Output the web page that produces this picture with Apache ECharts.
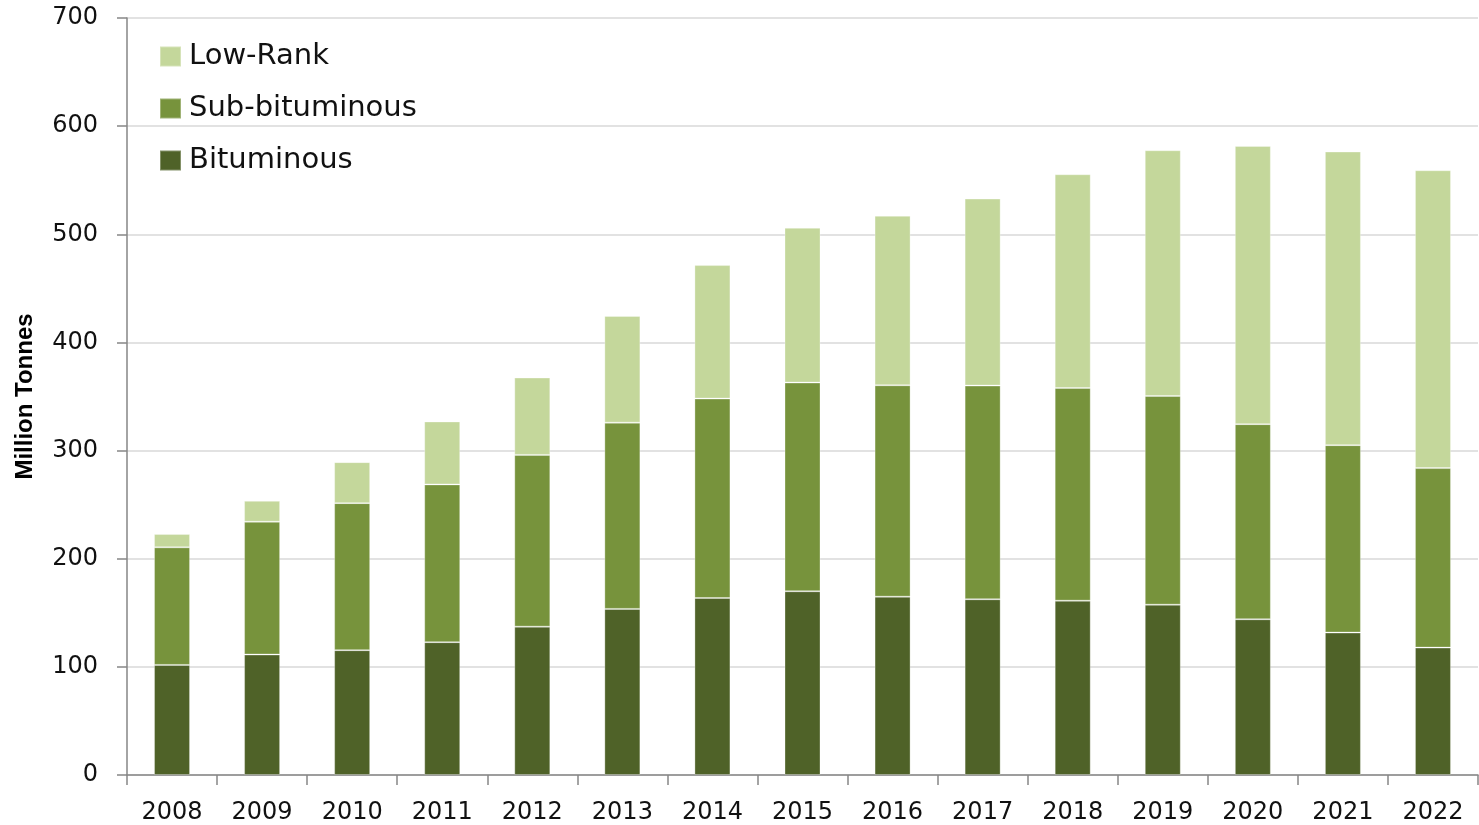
<!DOCTYPE html>
<html>
<head>
<meta charset="utf-8">
<title>Coal production by rank</title>
<script src="https://cdn.jsdelivr.net/npm/echarts@6/dist/echarts.min.js"></script>
<style>
  html, body { margin: 0; padding: 0; background: #fff; }
  #chart { width: 1479px; height: 825px; }
</style>
</head>
<body>
<div id="chart"></div>
<script>
// years on the x axis
var years = ['2008', '2009', '2010', '2011', '2012', '2013', '2014', '2015',
             '2016', '2017', '2018', '2019', '2020', '2021', '2022'];

// million tonnes
var bituminous = [101.8, 111.4, 115.4, 122.8, 137.2, 153.6, 163.7, 169.9,
                  164.9, 162.5, 161.2, 157.5, 144.0, 131.7, 117.8];
var subBituminous = [108.7, 122.8, 136.0, 145.9, 158.8, 172.2, 184.4, 193.0,
                     195.5, 197.6, 196.7, 193.0, 180.4, 173.3, 166.0];
var lowRank = [12.3, 19.3, 37.9, 58.2, 71.5, 98.6, 123.4, 143.1,
               156.7, 172.9, 197.6, 227.2, 257.3, 271.5, 275.4];

var yTicks = [0, 100, 200, 300, 400, 500, 600, 700];

var myChart = echarts.init(document.getElementById('chart'));

var labelFont = '"DejaVu Sans", "Open Sans", sans-serif';

function barSeries(name, data, color) {
    return {
        name: name,
        type: 'bar',
        stack: 'coal',
        data: data,
        barWidth: 36,
        itemStyle: {
            color: color,
            borderColor: 'rgba(255,255,255,0.3)',
            borderWidth: 1
        }
    };
}

var option = {
    animation: false,
    backgroundColor: '#fff',
    grid: {
        left: 127,
        right: 1,
        top: 18,
        bottom: 49
    },
    legend: {
        orient: 'vertical',
        left: 159,
        top: 42,
        padding: 0,
        icon: 'rect',
        itemWidth: 21,
        itemHeight: 20,
        itemGap: 23,
        data: ['Low-Rank', 'Sub-bituminous', 'Bituminous'],
        textStyle: {
            fontFamily: labelFont,
            fontSize: 29,
            color: '#111',
            padding: [0, 0, 0, 3]
        }
    },
    xAxis: {
        type: 'category',
        data: years,
        boundaryGap: true,
        axisLine: { lineStyle: { color: '#868686', width: 1.5 } },
        axisTick: { show: true, length: 10, interval: 0, lineStyle: { color: '#868686', width: 1.5 } },
        axisLabel: {
            margin: 26,
            fontFamily: labelFont,
            fontSize: 24,
            color: '#111'
        },
        splitLine: { show: false }
    },
    yAxis: {
        type: 'value',
        min: yTicks[0],
        max: yTicks[yTicks.length - 1],
        interval: 100,
        name: 'Million Tonnes',
        nameLocation: 'middle',
        nameGap: 90,
        nameRotate: 90,
        nameTextStyle: {
            fontFamily: '"Liberation Sans", Arial, sans-serif',
            fontWeight: 'bold',
            fontSize: 24,
            color: '#000'
        },
        axisLine: { show: true, lineStyle: { color: '#868686', width: 1.5 } },
        axisTick: { show: true, length: 10, lineStyle: { color: '#868686', width: 1.5 } },
        axisLabel: {
            margin: 29,
            fontFamily: labelFont,
            fontSize: 24,
            color: '#111'
        },
        splitLine: { lineStyle: { color: '#d9d9d9', width: 1.5 } }
    },
    series: [
        barSeries('Bituminous', bituminous, '#4f6228'),
        barSeries('Sub-bituminous', subBituminous, '#77933c'),
        barSeries('Low-Rank', lowRank, '#c4d79b')
    ]
};

myChart.setOption(option);
</script>
</body>
</html>
